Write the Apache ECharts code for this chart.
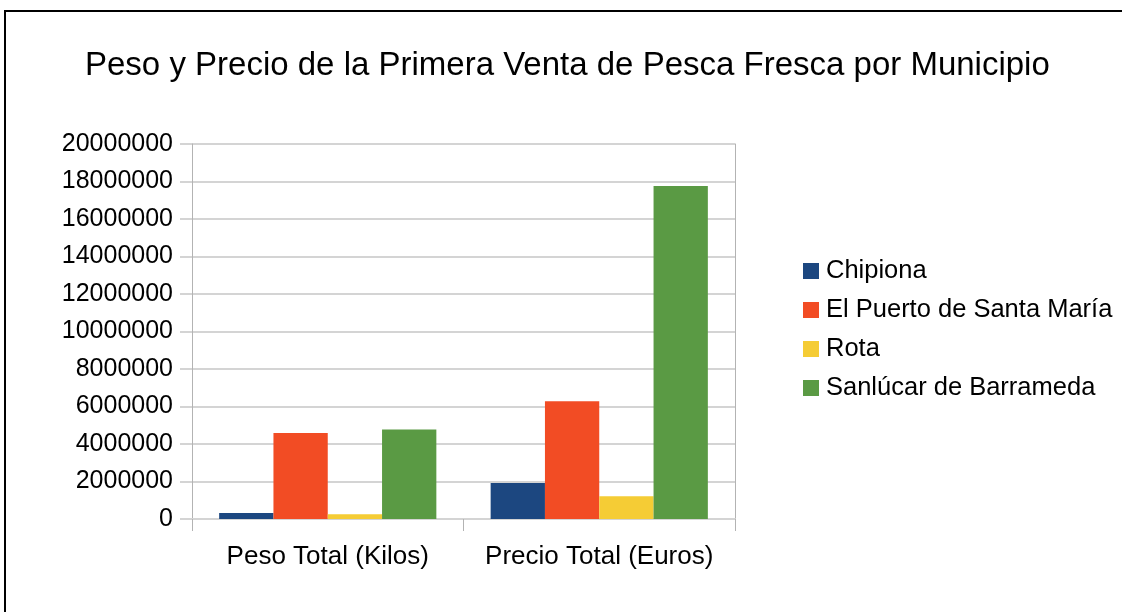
<!DOCTYPE html>
<html>
<head>
<meta charset="utf-8">
<script src="https://cdn.jsdelivr.net/npm/echarts@6/dist/echarts.min.js"></script>
<style>
  html, body { margin: 0; padding: 0; background: #ffffff; }
  #chart { width: 1122px; height: 612px; }
</style>
</head>
<body>
<div id="chart"></div>
<script>
// Categories on the x axis
var categories = ['Peso Total (Kilos)', 'Precio Total (Euros)'];

// One series per municipality: [kilos, euros]
var chipiona = [320000, 1920000];
var puertoSantaMaria = [4590000, 6280000];
var rota = [250000, 1210000];
var sanlucar = [4770000, 17760000];

var seriesNames = ['Chipiona', 'El Puerto de Santa María', 'Rota', 'Sanlúcar de Barrameda'];
var seriesColors = ['#1c4780', '#f24c24', '#f5cc35', '#5a9a44'];
var seriesValues = [chipiona, puertoSantaMaria, rota, sanlucar];

var FONT = '"Liberation Sans", Arial, sans-serif';

var chart = echarts.init(document.getElementById('chart'));

var series = seriesNames.map(function (name, i) {
  return {
    name: name,
    type: 'bar',
    data: seriesValues[i],
    barGap: '0%',
    barCategoryGap: '20%',
    itemStyle: { color: seriesColors[i] },
    emphasis: { disabled: true }
  };
});

chart.setOption({
  animation: false,
  backgroundColor: '#ffffff',
  title: {
    text: 'Peso y Precio de la Primera Venta de Pesca Fresca por Municipio',
    left: 80,
    top: 44,
    textStyle: { fontFamily: FONT, fontSize: 33, fontWeight: 'normal', color: '#000000' }
  },
  legend: {
    orient: 'vertical',
    left: 803,
    top: 258,
    padding: 0,
    itemWidth: 16,
    itemHeight: 16,
    itemGap: 13,
    icon: 'rect',
    textStyle: { fontFamily: FONT, fontSize: 25.5, color: '#000000', padding: [0, 0, 0, 2] },
    data: seriesNames
  },
  grid: { left: 192, right: 387, top: 144, bottom: 93 },
  xAxis: {
    type: 'category',
    data: categories,
    axisLine: { lineStyle: { color: '#d4d4d4', width: 2 } },
    axisTick: { show: true, interval: 0, length: 12, lineStyle: { color: '#b3b3b3', width: 1 } },
    axisLabel: { interval: 0, fontFamily: FONT, fontSize: 26, color: '#000000', margin: 25 }
  },
  yAxis: [{
    type: 'value',
    min: 0,
    max: 20000000,
    interval: 2000000,
    axisLine: { show: true, lineStyle: { color: '#b3b3b3', width: 1 } },
    axisTick: { show: true, length: 12, lineStyle: { color: '#d4d4d4', width: 2 } },
    splitLine: { lineStyle: { color: '#d4d4d4', width: 2 } },
    axisLabel: {
      fontFamily: FONT, fontSize: 25, color: '#000000', margin: 19,
      formatter: function (v) { return String(v); }
    }
  }, {
    type: 'value',
    position: 'right',
    min: 0,
    max: 20000000,
    interval: 2000000,
    axisLine: { show: true, lineStyle: { color: '#b3b3b3', width: 1 } },
    axisTick: { show: false },
    splitLine: { show: false },
    axisLabel: { show: false }
  }],
  graphic: [{
    type: 'rect',
    shape: { x: 5, y: 11, width: 1200, height: 700 },
    style: { fill: 'none', stroke: '#000000', lineWidth: 2 },
    silent: true
  }],
  series: series
});
</script>
</body>
</html>
